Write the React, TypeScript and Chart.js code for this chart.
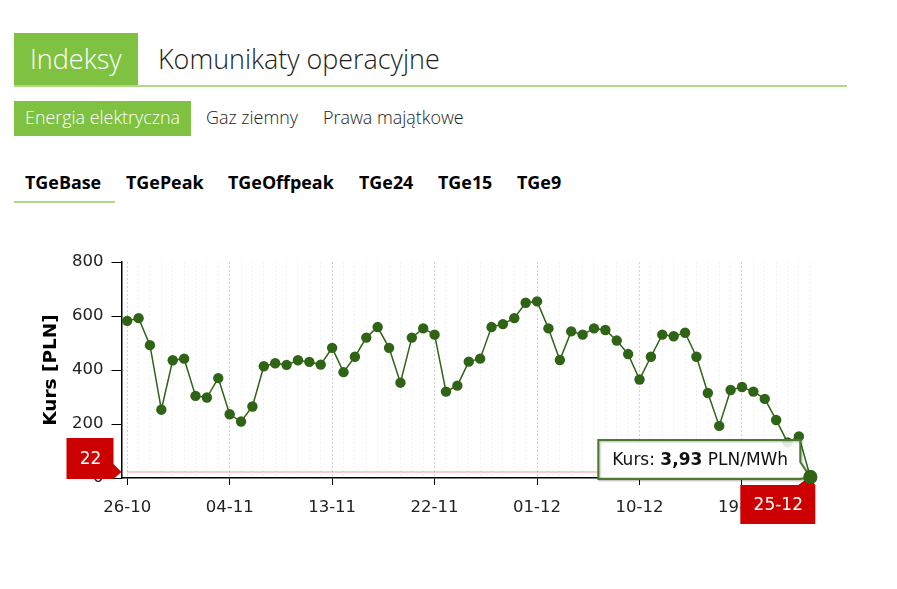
import React, { useEffect, useRef } from 'react';
import Chart from 'chart.js/auto';

const dates = [
  '26-10', '27-10', '28-10', '29-10', '30-10', '31-10', '01-11', '02-11', '03-11', '04-11',
  '05-11', '06-11', '07-11', '08-11', '09-11', '10-11', '11-11', '12-11', '13-11', '14-11',
  '15-11', '16-11', '17-11', '18-11', '19-11', '20-11', '21-11', '22-11', '23-11', '24-11',
  '25-11', '26-11', '27-11', '28-11', '29-11', '30-11', '01-12', '02-12', '03-12', '04-12',
  '05-12', '06-12', '07-12', '08-12', '09-12', '10-12', '11-12', '12-12', '13-12', '14-12',
  '15-12', '16-12', '17-12', '18-12', '19-12', '20-12', '21-12', '22-12', '23-12', '24-12',
  '25-12',
];
const kurs = [
  582, 592, 492, 253, 436, 442, 304, 298, 370, 236,
  209, 265, 414, 425, 419, 436, 430, 420, 482, 392,
  449, 520, 559, 482, 353, 520, 554, 531, 320, 342,
  431, 442, 559, 570, 592, 649, 654, 554, 437, 543,
  531, 554, 548, 509, 459, 365, 449, 531, 525, 538,
  449, 315, 193, 326, 337, 320, 293, 215, 132, 154,
  3.93,
];
const refLevel = dates.map(() => 22);
const yTicks = [0, 200, 400, 600, 800];
const mainTabs = ['Indeksy', 'Komunikaty operacyjne'];
const subTabs = ['Energia elektryczna', 'Gaz ziemny', 'Prawa majątkowe'];
const indexTabs = ['TGeBase', 'TGePeak', 'TGeOffpeak', 'TGe24', 'TGe15', 'TGe9'];

const GREEN = '#7fc241';
const RULE = '#b0d884';
const LINE = '#2f6316';
const RED = '#cc0000';
const CHART_FONT = '"DejaVu Sans", sans-serif';

// czerwone znaczniki i dymek nad wykresem
const overlayPlugin = {
  id: 'overlays',
  afterDraw(chart: any) {
    const { ctx, scales } = chart;
    const last = kurs.length - 1;
    const px = scales.x.getPixelForValue(last);
    const py = scales.y.getPixelForValue(kurs[last]);
    const ly = scales.y.getPixelForValue(refLevel[0]);
    const ax = chart.chartArea.left;

    ctx.save();
    ctx.textAlign = 'center';
    ctx.textBaseline = 'middle';
    ctx.font = `17px ${CHART_FONT}`;

    // znacznik poziomu
    ctx.fillStyle = RED;
    ctx.beginPath();
    ctx.moveTo(ax - 55, ly - 34);
    ctx.lineTo(ax - 8, ly - 34);
    ctx.lineTo(ax - 8, ly - 8);
    ctx.lineTo(ax, ly);
    ctx.lineTo(ax - 8, ly + 7);
    ctx.lineTo(ax - 55, ly + 7);
    ctx.closePath();
    ctx.fill();
    ctx.fillStyle = '#fff';
    ctx.fillText('22', ax - 31, ly - 12);

    // znacznik daty
    ctx.fillStyle = RED;
    ctx.beginPath();
    ctx.moveTo(px - 70, py + 8);
    ctx.lineTo(px - 12, py + 8);
    ctx.lineTo(px - 1, py);
    ctx.lineTo(px + 5, py + 8);
    ctx.lineTo(px + 5, py + 47);
    ctx.lineTo(px - 70, py + 47);
    ctx.closePath();
    ctx.fill();
    ctx.fillStyle = '#fff';
    ctx.fillText(dates[last], px - 32, py + 29);

    // dymek
    ctx.beginPath();
    ctx.moveTo(px - 212, py - 37);
    ctx.lineTo(px - 10, py - 37);
    ctx.lineTo(px - 10, py - 15);
    ctx.lineTo(px, py);
    ctx.lineTo(px - 10, py + 2);
    ctx.lineTo(px - 212, py + 2);
    ctx.closePath();
    ctx.fillStyle = 'rgba(255,255,255,0.88)';
    ctx.fill();
    ctx.shadowColor = 'rgba(0,0,0,0.3)';
    ctx.shadowBlur = 2;
    ctx.shadowOffsetX = 1;
    ctx.shadowOffsetY = 1;
    ctx.strokeStyle = '#4a7a30';
    ctx.lineWidth = 2;
    ctx.stroke();
    ctx.shadowColor = 'transparent';

    const parts = [
      { text: 'Kurs: ', bold: false },
      { text: '3,93', bold: true },
      { text: ' PLN/MWh', bold: false },
    ];
    let tx = px - 198;
    ctx.textAlign = 'left';
    ctx.fillStyle = '#111';
    parts.forEach((p) => {
      ctx.font = `${p.bold ? 'bold ' : ''}17px ${CHART_FONT}`;
      ctx.fillText(p.text, tx, py - 16);
      tx += ctx.measureText(p.text).width;
    });
    ctx.restore();

    // ostatni punkt leży nad dymkiem i znacznikiem
    chart.getDatasetMeta(1).data[last].draw(ctx);
  },
};

const KursChart: React.FC = () => {
  const chartRef = useRef<HTMLCanvasElement | null>(null);

  useEffect(() => {
    if (!chartRef.current) return;

    const chart = new Chart(chartRef.current, {
      type: 'line',
      data: {
        labels: dates,
        datasets: [
          {
            label: 'Poziom',
            data: refLevel,
            borderColor: 'rgba(204,0,0,0.25)',
            borderWidth: 1.5,
            pointRadius: 0,
          },
          {
            label: 'Kurs',
            data: kurs,
            borderColor: LINE,
            backgroundColor: LINE,
            borderWidth: 1.5,
            tension: 0,
            pointBackgroundColor: LINE,
            pointBorderWidth: 0,
            pointRadius: (c: any) => (c.dataIndex === kurs.length - 1 ? 7 : 5.2),
            clip: false,
          },
        ],
      },
      options: {
        responsive: false,
        animation: false,
        layout: { padding: { left: 40, right: 81, top: 12, bottom: 0 } },
        plugins: { legend: { display: false }, tooltip: { enabled: false } },
        scales: {
          x: {
            offset: true,
            afterFit: (s: any) => { s.height = 62; },
            border: { color: '#000', width: 1.5, dash: [2, 2] },
            grid: {
              color: (c: any) => (c.index % 9 === 0 ? 'rgba(0,0,0,0.18)' : 'rgba(0,0,0,0.06)'),
              tickColor: (c: any) => (c.index % 9 === 0 ? '#000' : 'rgba(0,0,0,0)'),
              tickLength: 7,
            },
            ticks: {
              autoSkip: false,
              maxRotation: 0,
              padding: 13,
              color: '#222',
              font: { family: CHART_FONT, size: 16.5 },
              callback: (_v: any, i: number) => (i % 9 === 0 ? dates[i] : ''),
            },
          },
          y: {
            min: yTicks[0],
            max: yTicks[yTicks.length - 1],
            afterFit: (s: any) => {
              s.width = 81.5;
              s.paddingTop = 0;
              s.paddingBottom = 0;
            },
            afterBuildTicks: (s: any) => { s.ticks = yTicks.map((value) => ({ value })); },
            border: { color: '#000', width: 1.5 },
            grid: { drawOnChartArea: false, tickColor: '#000', tickLength: 10 },
            ticks: {
              padding: 8,
              color: '#222',
              font: { family: CHART_FONT, size: 16.5 },
            },
            title: {
              display: true,
              text: 'Kurs [PLN]',
              color: '#000',
              padding: 0,
              font: { family: CHART_FONT, size: 18.5, weight: 'bold' },
            },
          },
        },
      },
      plugins: [overlayPlugin],
    } as any);

    return () => {
      chart.destroy();
    };
  }, []);

  return (
    <canvas
      ref={chartRef}
      width={897}
      height={290}
      style={{ position: 'absolute', left: 0, top: 250, width: 897, height: 290 }}
    />
  );
};

const abs = (left: number, top: number, extra: React.CSSProperties = {}): React.CSSProperties => ({
  position: 'absolute',
  left,
  top,
  whiteSpace: 'nowrap',
  ...extra,
});

const App: React.FC = () => {
  const subX = [25, 206, 323];
  const idxX = [25, 126, 228, 359, 438, 517];

  return (
    <div
      style={{
        position: 'fixed',
        left: 0,
        top: 0,
        width: 897,
        height: 589,
        background: '#fff',
        overflow: 'hidden',
        fontFamily: '"Open Sans", sans-serif',
      }}
    >
      <div style={abs(14, 33, { width: 124, height: 53, background: GREEN })} />
      <div style={abs(14, 85, { width: 833, height: 2, background: RULE })} />
      <div style={abs(30, 40, { fontSize: 27, fontWeight: 300, color: '#fff', lineHeight: '38px' })}>
        {mainTabs[0]}
      </div>
      <div style={abs(158, 40, { fontSize: 26.9, fontWeight: 300, color: '#1c1c1c', lineHeight: '38px' })}>
        {mainTabs[1]}
      </div>

      <div style={abs(14, 101, { width: 177, height: 35, background: GREEN })} />
      {subTabs.map((t, i) => (
        <div
          key={t}
          style={abs(subX[i], 105, {
            fontSize: 17.9,
            fontWeight: 300,
            lineHeight: '25px',
            color: i === 0 ? '#fff' : '#1c1c1c',
          })}
        >
          {t}
        </div>
      ))}

      {indexTabs.map((t, i) => (
        <div key={t} style={abs(idxX[i], 170, { fontSize: 17.9, fontWeight: 700, lineHeight: '24px', color: '#000' })}>
          {t}
        </div>
      ))}
      <div style={abs(14, 201, { width: 101, height: 2, background: RULE })} />

      <KursChart />
    </div>
  );
};

export default App;
